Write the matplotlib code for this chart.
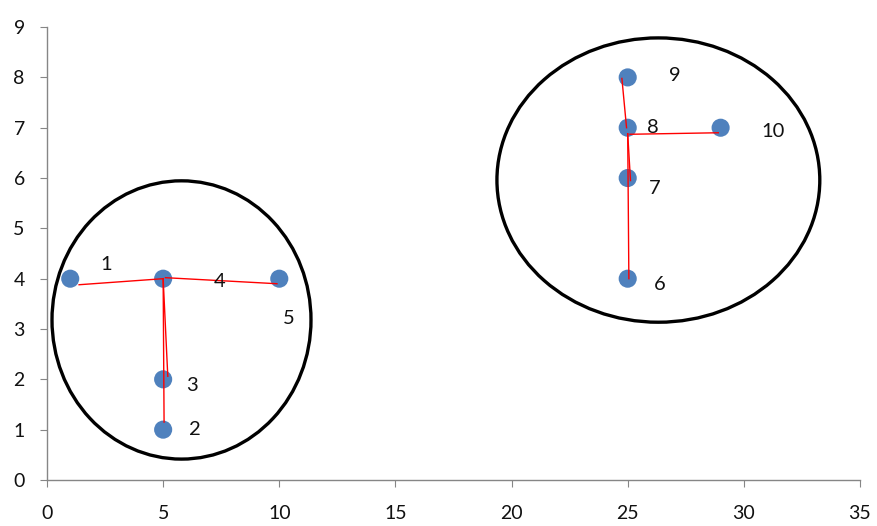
import matplotlib
matplotlib.use("Agg")
import matplotlib.pyplot as plt
from matplotlib.patches import Ellipse

plt.rcParams['font.family'] = ['Lato', 'DejaVu Sans']

# Data points
point_x = [1, 5, 5, 5, 10, 25, 25, 25, 25, 29]
point_y = [4, 1, 2, 4, 4, 4, 6, 7, 8, 7]
point_labels = ["1", "2", "3", "4", "5", "6", "7", "8", "9", "10"]
label_x = [2.53, 6.37, 6.23, 7.45, 10.39, 26.39, 26.17, 26.1, 27.03, 31.26]
label_y = [4.28, 1.01, 1.87, 3.94, 3.21, 3.88, 5.8, 7.0, 8.04, 6.92]

# Red connecting segments
seg_x0 = [1.38, 5.1, 5.0, 5.04, 24.75, 25.1, 25.0, 25.0]
seg_y0 = [3.88, 4.02, 4.0, 1.15, 7.98, 6.87, 6.88, 6.88]
seg_x1 = [5.0, 9.9, 5.2, 5.0, 24.95, 28.9, 25.05, 25.12]
seg_y1 = [4.0, 3.9, 2.06, 4.0, 7.0, 6.9, 4.0, 5.95]

# Cluster ellipses
ell_cx = [5.79, 26.32]
ell_cy = [3.18, 5.96]
ell_w = [11.15, 13.9]
ell_h = [5.53, 5.65]

x_ticks = [0, 5, 10, 15, 20, 25, 30, 35]
y_ticks = list(range(10))

fig = plt.figure(figsize=(8.77, 5.26), dpi=100)
ax = fig.add_axes([0.0536, 0.0875, 0.927, 0.861])

for x0, y0, x1, y1 in zip(seg_x0, seg_y0, seg_x1, seg_y1):
    ax.plot([x0, x1], [y0, y1], color='red', lw=1.0, zorder=3)

ax.scatter(point_x, point_y, s=170, color='#4F81BD', zorder=2, edgecolors='none')

for cx, cy, w, h in zip(ell_cx, ell_cy, ell_w, ell_h):
    ax.add_patch(Ellipse((cx, cy), w, h, fill=False, edgecolor='black', lw=2.4, zorder=4))

for lx, ly, t in zip(label_x, label_y, point_labels):
    ax.text(lx, ly, t, ha='center', va='center', fontsize=14.5, color='#111111', zorder=5)

ax.set_xlim(0, 35)
ax.set_ylim(0, 9)
ax.set_xticks(x_ticks)
ax.set_yticks(y_ticks)
for s in ['top', 'right']:
    ax.spines[s].set_visible(False)
for s in ['left', 'bottom']:
    ax.spines[s].set_color('#868686')
    ax.spines[s].set_linewidth(1.0)
ax.tick_params(axis='both', direction='out', length=5, color='#868686', labelsize=14,
               labelcolor='#111111')
ax.tick_params(axis='x', pad=13)
ax.tick_params(axis='y', pad=11)

fig.savefig("out.png", dpi=100)
